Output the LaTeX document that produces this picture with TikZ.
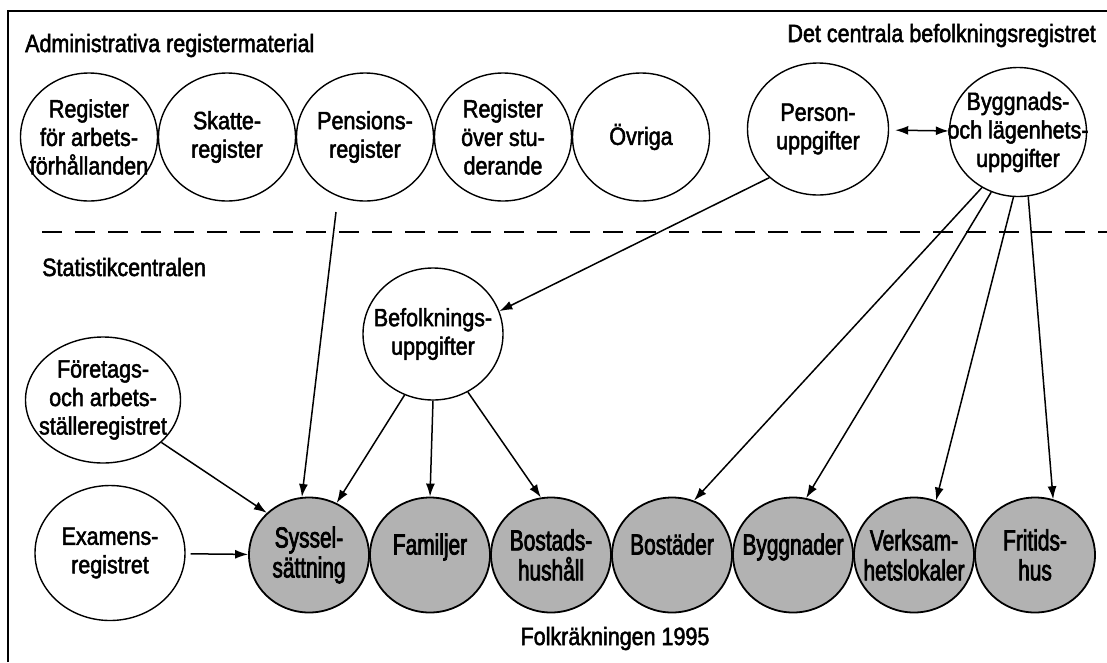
\documentclass[tikz,border=0pt]{standalone}
\usepackage{fontspec}
\setmainfont{Liberation Sans}[FakeStretch=0.86, FakeBold=2]
\newfontfamily\narrowfont{Liberation Sans}[FakeStretch=0.72, FakeBold=2.5]
\newcommand\censusfont{\narrowfont\fontsize{29}{30}\selectfont}
\usepackage{tikz}
\usetikzlibrary{shapes,arrows.meta,positioning}

\begin{document}
\begin{tikzpicture}[x=1pt, y=-1pt, font=\fontsize{25}{28.5}\selectfont,
    reg circle/.style={draw, ellipse, line width=1.4pt, minimum width=137pt, minimum height=128pt, inner sep=-25pt, align=center, node distance=138pt},
    census circle/.style={draw, ellipse, line width=1.8pt, fill=black!30, minimum width=120pt, minimum height=115pt, inner sep=-20pt, align=center, font=\censusfont, node distance=121pt},
    raised/.style={text depth=22pt},
    heading/.style={inner sep=0pt},
    flow/.style={->, line width=1.5pt},
    >={Latex[length=13pt,width=9pt]}]
    \useasboundingbox (0,0) rectangle (1107,662);
    \draw[line width=1.8pt] (8,662) -- (8,11) -- (1107,11);
    \draw[line width=1.6pt, dash pattern=on 20pt off 13pt] (42,232) -- (1107,232);

    \node[heading, anchor=base west] (admtitle) at (25,52) {Administrativa registermaterial};
    \node[heading, anchor=base east] (cbrtitle) at (1096,42) {Det centrala befolkningsregistret};
    \node[heading, anchor=base west] (sctitle) at (42,276) {Statistikcentralen};
    \node[heading, anchor=base] (fktitle) at (615,645) {Folkräkningen 1995};

    \node[reg circle] (arbets) at (89,137) {Register\\för arbets-\\förhållanden};
    \node[reg circle, right of=arbets] (skatt) {Skatte-\\register};
    \node[reg circle, right of=skatt] (pension) {Pensions-\\register};
    \node[reg circle, right of=pension] (student) {Register\\över stu-\\derande};
    \node[reg circle, right of=student] (ovriga) {Övriga};
    \node[reg circle, minimum width=141pt, minimum height=132pt] (person) at (818,129) {Person-\\uppgifter};
    \node[reg circle, minimum height=129pt] (bygglag) at (1018,132) {Byggnads-\\och lägenhets-\\uppgifter};
    \coordinate (pensfoot) at (336,212);

    \node[reg circle, minimum width=140pt, minimum height=132pt] (befolk) at (433,334) {Befolknings-\\uppgifter};
    \node[reg circle, minimum width=155pt, minimum height=126pt] (foretag) at (103,400) {Företags-\\och arbets-\\ställeregistret};
    \node[reg circle, minimum width=150pt, minimum height=135pt] (examen) at (110,553) {Examens-\\registret};

    \node[census circle] (syssel) at (309,555) {Syssel-\\sättning};
    \node[census circle, raised, right of=syssel] (familj) {Familjer};
    \node[census circle, right of=familj] (hushall) {Bostads-\\hushåll};
    \node[census circle, raised, right of=hushall] (bostader) {Bostäder};
    \node[census circle, raised, right of=bostader] (byggnader) {Byggnader};
    \node[census circle, right of=byggnader] (verksam) {Verksam-\\hetslokaler};
    \node[census circle, right of=verksam] (fritid) {Fritids-\\hus};

    \draw[<->, line width=1.5pt, shorten <=6pt] (person) -- (bygglag);
    \draw[flow] (person.225) -- (befolk.19);
    \draw[flow] (bygglag.237) -- (bostader.68);
    \draw[flow] (bygglag.246) -- (byggnader.77);
    \draw[flow] (bygglag.266) -- (verksam.68);
    \draw[flow] (bygglag.279) -- (fritid.72);
    \draw[flow] (pensfoot) -- (syssel.97);
    \draw[flow] (befolk.245) -- (syssel.62);
    \draw[flow] (befolk.270) -- (familj.90);
    \draw[flow] (befolk.301) -- (hushall.100);
    \draw[flow] (foretag.324) -- (syssel.135);
    \draw[flow, shorten <=5pt] (examen) -- (syssel);
\end{tikzpicture}
\end{document}
